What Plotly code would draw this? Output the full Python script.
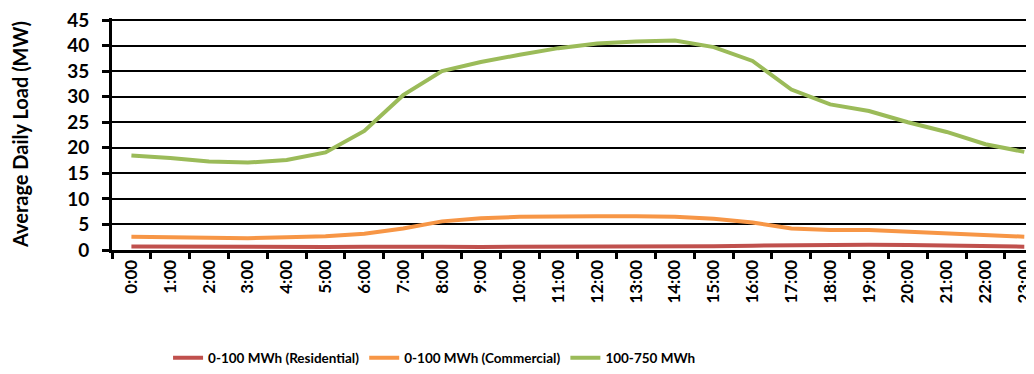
import plotly.graph_objects as go

hours = [f"{h}:00" for h in range(24)]
residential = [0.7, 0.65, 0.6, 0.6, 0.6, 0.6, 0.65, 0.7, 0.65, 0.6, 0.6, 0.6,
               0.65, 0.7, 0.7, 0.75, 0.85, 0.95, 1.0, 1.05, 1.0, 0.9, 0.8, 0.65]
commercial = [2.6, 2.5, 2.4, 2.3, 2.5, 2.7, 3.2, 4.2, 5.6, 6.2, 6.5, 6.6,
              6.6, 6.6, 6.5, 6.1, 5.4, 4.2, 3.9, 3.9, 3.6, 3.2, 2.9, 2.6]
large = [18.5, 18.0, 17.3, 17.1, 17.6, 19.1, 23.3, 30.3, 35.0, 36.8, 38.2, 39.5,
         40.4, 40.8, 41.0, 39.7, 37.0, 31.4, 28.5, 27.2, 25.0, 23.1, 20.7, 19.2]
y_ticks = [0, 5, 10, 15, 20, 25, 30, 35, 40, 45]

series = [
    ("0-100 MWh (Residential)", residential, "#C0504D"),
    ("0-100 MWh (Commercial)", commercial, "#F79646"),
    ("100-750 MWh", large, "#9BBB59"),
]

fig = go.Figure()
for name, vals, color in series:
    fig.add_trace(go.Scatter(x=hours, y=vals, name=name, mode="lines",
                             line=dict(color=color, width=4)))

# top gridline (plotly omits the gridline at the range edge)
fig.add_shape(type="line", xref="paper", yref="y",
              x0=0, x1=1, y0=y_ticks[-1], y1=y_ticks[-1],
              line=dict(color="black", width=2), layer="above")

font_family = "Lato, 'Open Sans', sans-serif"
fig.update_layout(
    width=1026, height=366,
    margin=dict(l=104, r=0, t=8, b=124),
    paper_bgcolor="white", plot_bgcolor="white",
    font=dict(family=font_family, color="black"),
    legend=dict(orientation="h", xref="container", yref="container",
                x=0.156, y=0.044, xanchor="left", yanchor="middle",
                font=dict(size=13.5, family=font_family, weight="bold"),
                itemwidth=30, tracegroupgap=0),
    xaxis=dict(type="category", range=[-0.5, 23.25],
               showline=True, linecolor="black", linewidth=3,
               ticks="outside", tickson="boundaries", ticklen=6,
               tickwidth=2.5, tickcolor="black",
               tickangle=-90, showgrid=False, ticklabeloverflow="allow",
               tickfont=dict(size=17, family=font_family, weight="bold")),
    yaxis=dict(range=[0, 45.4], tickvals=y_ticks,
               showline=True, linecolor="black", linewidth=3,
               ticks="outside", ticklen=7, tickwidth=2.5, tickcolor="black",
               ticklabelstandoff=9, ticklabeloverflow="allow",
               showgrid=True, gridcolor="black", gridwidth=1.8,
               zeroline=False,
               tickfont=dict(size=19, family=font_family, weight="bold"),
               title=dict(text="Average Daily Load (MW)", standoff=37,
                          font=dict(size=20, family=font_family, weight="bold"))),
)

fig.write_html("out.html")
